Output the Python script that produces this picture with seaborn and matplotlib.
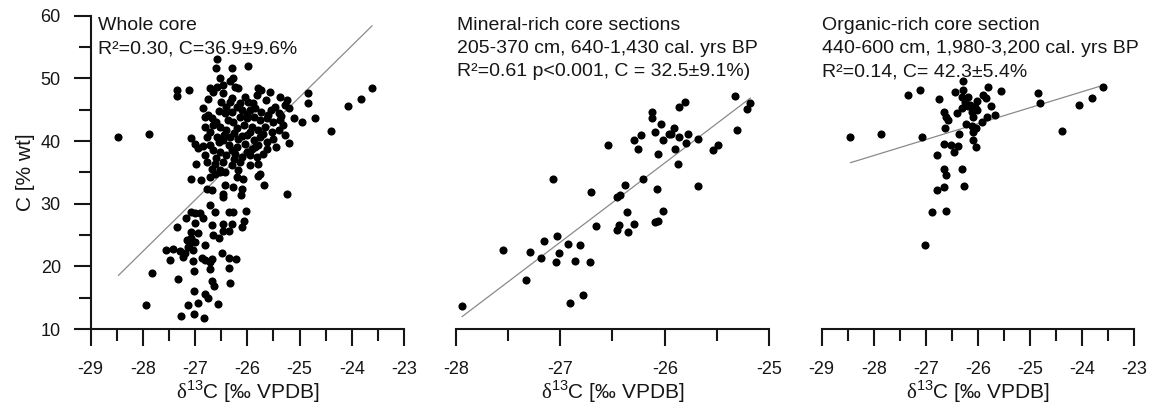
import numpy as np
import pandas as pd
import matplotlib
matplotlib.use("Agg")
import matplotlib.pyplot as plt
import seaborn as sns
from matplotlib.ticker import MultipleLocator

sns.set_theme(style="ticks")
plt.rcParams['font.family'] = ['Liberation Sans', 'DejaVu Sans']
plt.rcParams['mathtext.fontset'] = 'custom'
plt.rcParams['mathtext.rm'] = 'Liberation Serif'
plt.rcParams['mathtext.sf'] = 'Liberation Sans'

# ---------------- data ----------------
whole_d13c = [
    -28.47, -27.88, -27.35, -27.35, -27.11, -24.07, -23.83, -23.61, -24.40, -24.70,
    -24.84, -24.84, -24.96, -25.10, -25.21,
    -26.59, -26.60, -26.30, -25.98, -26.52, -26.27, -26.23, -26.33, -26.71, -26.59,
    -26.46, -26.65, -26.46, -26.17, -26.75, -26.30, -25.79, -25.73, -25.56, -25.82,
    -26.14, -26.20, -25.98, -25.37, -25.24, -25.27, -25.21, -25.47, -25.95, -25.73,
    -26.33, -26.81, -26.75, -26.68, -26.65, -26.43, -26.30, -26.27, -26.14, -26.01,
    -25.88, -25.76, -25.63, -25.50, -25.37, -25.31, -26.52, -26.40, -26.20, -26.07,
    -25.91, -25.79, -25.66, -25.53, -25.40, -25.27, -26.71, -26.81, -26.78, -26.59,
    -26.46, -26.33, -26.17, -26.01, -25.88, -25.76, -25.63, -25.50, -26.36, -26.20,
    -26.04, -25.91, -25.79, -25.63, -27.07, -27.00, -26.94, -26.71, -26.65, -26.52,
    -26.40, -26.24, -26.11, -25.95, -25.82, -26.81, -26.78, -26.62, -26.46, -26.30,
    -26.14, -25.95, -25.79, -26.98, -26.68, -26.52, -26.17, -25.75, -26.43,
    -27.07, -26.88, -26.72, -26.62, -26.52, -26.78, -26.68, -26.46, -26.46, -26.43,
    -26.27, -26.20, -26.09, -26.11, -26.13, -25.79, -25.69, -25.25, -26.72, -27.07,
    -27.00, -26.91, -26.84, -27.18, -26.62, -26.36, -26.28, -26.02, -26.07, -26.11,
    -27.34, -27.00, -26.68, -26.46, -26.30, -27.07, -26.94, -26.66, -26.55, -26.46,
    -26.36, -27.16, -27.07, -27.10, -27.00, -27.13, -27.05, -26.81, -27.42, -27.29,
    -27.20, -27.23, -27.48, -27.05, -26.86, -26.81, -26.72, -26.68, -26.49, -26.36,
    -26.22, -27.02, -26.72, -26.36, -27.33, -26.67, -26.63, -26.33, -27.03, -26.81,
    -26.76, -26.57, -27.13, -26.94, -27.28, -27.02, -26.83, -27.95, -27.82, -27.56,
    -26.05, -25.90, -25.65, -25.55, -25.85, -26.10, -26.40, -26.55, -26.00, -25.60,
    -25.40, -26.25, -25.95, -25.70, -26.45, -26.10, -25.85, -26.30, -26.00, -25.70,
    -26.55, -26.85, -26.60, -26.25, -25.45, -25.35, -26.50, -26.85, -26.38, -26.60,
]
whole_c = [
    40.7, 41.1, 48.1, 47.2, 48.1, 45.6, 46.7, 48.5, 41.6, 43.6,
    47.7, 46.0, 43.1, 43.6, 39.7,
    53.1, 51.7, 51.6, 52.0, 50.1, 50.1, 48.7, 49.5, 48.4, 48.7,
    48.9, 47.8, 47.6, 48.5, 46.7, 46.8, 48.4, 48.1, 47.9, 47.3,
    46.0, 45.5, 46.3, 47.1, 46.5, 45.7, 45.2, 45.5, 44.9, 44.7,
    46.3, 43.9, 44.1, 43.6, 42.6, 44.4, 44.7, 43.1, 43.9, 43.6,
    43.9, 43.4, 43.6, 43.1, 43.4, 42.6, 42.3, 41.8, 42.0, 42.6,
    42.3, 41.8, 42.3, 41.5, 41.8, 41.0, 41.5, 42.3, 40.7, 40.7,
    40.2, 40.7, 40.4, 41.0, 40.2, 40.7, 39.9, 40.4, 39.4, 39.1,
    39.6, 38.8, 39.4, 38.8, 40.5, 39.6, 38.9, 39.4, 38.6, 38.3,
    37.8, 38.0, 37.5, 37.8, 37.5, 37.8, 36.7, 36.4, 36.7, 36.2,
    36.7, 36.2, 36.4, 36.4, 35.6, 35.4, 35.4, 34.8, 35.1,
    34.0, 33.7, 34.3, 34.8, 35.1, 32.4, 32.2, 31.6, 31.1, 33.0,
    32.7, 34.3, 34.0, 32.4, 31.4, 34.4, 33.0, 31.5, 29.8, 28.7,
    28.5, 28.5, 27.7, 27.7, 28.7, 28.7, 28.7, 28.9, 27.3, 26.3,
    26.3, 26.9, 26.6, 26.7, 26.8, 25.5, 25.4, 25.0, 24.5, 25.7,
    25.6, 24.2, 24.5, 23.7, 23.9, 23.1, 22.6, 23.4, 22.7, 22.5,
    22.1, 21.5, 21.0, 20.9, 21.3, 21.0, 20.7, 21.1, 22.1, 21.3,
    21.1, 19.3, 19.5, 19.8, 17.9, 17.7, 16.8, 17.3, 16.0, 15.6,
    15.0, 14.0, 13.9, 14.1, 12.0, 12.4, 11.8, 13.8, 19.0, 22.6,
    47.0, 46.0, 46.5, 45.0, 45.2, 45.0, 45.5, 44.8, 44.3, 44.2,
    44.5, 41.3, 41.5, 41.2, 41.0, 40.8, 39.0, 38.6, 38.3, 38.0,
    39.8, 39.2, 37.3, 37.2, 39.0, 44.0, 46.3, 45.2, 43.3, 43.0,
]

mineral_d13c = [
    -27.94, -27.55, -27.33, -27.29, -27.16, -27.18, -27.07, -27.03, -27.01, -27.04,
    -26.93, -26.86, -26.81, -26.91, -26.78, -26.72, -26.71, -26.66, -26.54, -26.46,
    -26.43, -26.38, -26.36, -26.44, -26.46, -26.35, -26.29, -26.29, -26.23, -26.26,
    -26.21, -26.12, -26.12, -26.04, -26.09, -26.06, -26.07, -26.02, -26.09, -26.06,
    -26.02, -25.96, -25.94, -25.91, -25.86, -25.90, -25.87, -25.86, -25.81, -25.78,
    -25.80, -25.68, -25.68, -25.54, -25.49, -25.33, -25.31, -25.21, -25.18,
]
mineral_c = [
    13.7, 22.6, 17.8, 22.3, 24.1, 21.3, 34.0, 24.8, 22.1, 20.7,
    23.5, 20.9, 23.4, 14.1, 15.5, 20.7, 31.8, 26.4, 39.3, 31.1,
    31.4, 33.0, 28.6, 26.6, 25.8, 25.5, 26.8, 40.2, 40.9, 38.7,
    34.0, 44.6, 43.7, 42.7, 41.4, 38.0, 32.4, 28.8, 27.0, 27.2,
    40.2, 41.1, 41.2, 42.1, 40.7, 38.7, 36.3, 45.5, 46.3, 41.1,
    39.7, 40.4, 32.9, 38.6, 39.3, 47.2, 41.7, 45.1, 46.1,
]

organic_d13c = [
    -28.45, -27.87, -27.34, -27.11, -27.07, -26.74, -26.78, -26.65, -26.61, -26.57,
    -26.63, -26.66, -26.52, -26.47, -26.39, -26.36, -26.41, -26.45, -26.29, -26.29,
    -26.31, -26.24, -26.31, -26.19, -26.15, -26.12, -26.09, -26.23, -26.12, -26.04,
    -26.09, -26.10, -26.04, -26.02, -26.06, -25.93, -25.90, -25.85, -25.81, -25.76,
    -25.83, -25.67, -25.55, -26.65, -26.61, -26.65, -26.79, -26.31, -26.27, -26.89,
    -26.61, -27.02, -24.84, -24.81, -24.38, -24.07, -23.81, -23.61, -26.20, -26.02,
]
organic_c = [
    40.7, 41.2, 47.4, 48.2, 40.6, 46.7, 37.7, 44.6, 43.9, 43.4,
    42.1, 39.6, 39.4, 38.3, 39.2, 41.2, 44.4, 47.9, 49.6, 48.1,
    47.1, 46.3, 45.2, 47.1, 45.7, 44.7, 43.9, 42.7, 42.4, 42.0,
    41.4, 40.1, 39.1, 46.4, 45.5, 43.1, 47.3, 46.8, 48.6, 45.6,
    43.8, 44.1, 48.0, 35.6, 34.5, 32.7, 32.2, 35.5, 32.8, 28.6,
    28.8, 23.4, 47.7, 46.0, 41.6, 45.8, 46.8, 48.6, 45.6, 44.9,
]

fit_slope = [8.20, 12.65, 2.547]
fit_intercept = [252.0, 365.4, 109.0]

panel_text = [
    ["Whole core", "R\u00b2=0.30, C=36.9\u00b19.6%"],
    ["Mineral-rich core sections", "205-370 cm, 640-1,430 cal. yrs BP",
     "R\u00b2=0.61 p<0.001, C = 32.5\u00b19.1%)"],
    ["Organic-rich core section", "440-600 cm, 1,980-3,200 cal. yrs BP",
     "R\u00b2=0.14, C= 42.3\u00b15.4%"],
]
x_limits = [(-29, -23), (-28, -25), (-29, -23)]
y_ticks = [10, 20, 30, 40, 50, 60]
x_label = r"$\mathrm{\delta}^{\mathsf{13}}$C [‰ VPDB]"
y_label = "C [% wt]"

# ---------------- figure ----------------
W, H = 1153, 407
fig = plt.figure(figsize=(W / 100, H / 100), dpi=100)
ink = "#161616"

def px_rect(x0, x1, ytop, ybot):
    return [x0 / W, 1 - ybot / H, (x1 - x0) / W, (ybot - ytop) / H]

rects = [px_rect(90.7, 404.0, 15.7, 329.0),
         px_rect(455.7, 769.3, 15.7, 329.0),
         px_rect(821.7, 1134.3, 15.7, 329.0)]
text_x = [98, 457, 822]

datasets = [(whole_d13c, whole_c), (mineral_d13c, mineral_c), (organic_d13c, organic_c)]

for i, (rect, (xd, yd)) in enumerate(zip(rects, datasets)):
    ax = fig.add_axes(rect)
    ax.set_facecolor("none")
    df = pd.DataFrame({"d13c": xd, "c": yd})
    xs = np.array([df["d13c"].min(), df["d13c"].max()])
    sns.lineplot(x=xs, y=fit_slope[i] * xs + fit_intercept[i], ax=ax,
                 color="#8a8a8a", linewidth=0.9, zorder=2)
    sns.scatterplot(data=df, x="d13c", y="c", ax=ax, color="black", s=34,
                    linewidth=0, zorder=3, clip_on=False)
    ax.set_xlim(*x_limits[i])
    ax.set_ylim(10, 60)
    ax.xaxis.set_minor_locator(MultipleLocator(0.5))
    ax.set_xticks(np.arange(x_limits[i][0], x_limits[i][1] + 0.5, 1))
    ax.set_xticklabels([f"{v:d}" for v in range(x_limits[i][0], x_limits[i][1] + 1)])
    for s in ["top", "right"]:
        ax.spines[s].set_visible(False)
    for s in ["left", "bottom"]:
        ax.spines[s].set_linewidth(1.5)
        ax.spines[s].set_color(ink)
    ax.tick_params(axis="x", which="major", length=12.5, width=1.5, direction="out",
                   labelsize=13, pad=10.5, color=ink, labelcolor=ink)
    ax.tick_params(axis="y", which="major", length=12.5, width=1.5, direction="out",
                   labelsize=13, pad=9, color=ink, labelcolor=ink)
    ax.tick_params(axis="both", which="minor", length=8.5, width=1.5, direction="out",
                   color=ink)
    ax.set_xlabel(x_label, fontsize=15, color=ink, labelpad=0.5)
    if i == 0:
        ax.set_yticks(y_ticks)
        ax.set_yticklabels([str(v) for v in y_ticks])
        ax.yaxis.set_minor_locator(MultipleLocator(5))
        ax.set_ylabel(y_label, fontsize=15, color=ink, labelpad=4)
    else:
        ax.spines["left"].set_visible(False)
        ax.set_yticks([])
        ax.set_ylabel("")
    for j, line in enumerate(panel_text[i]):
        fig.text(text_x[i] / W, 1 - (30.5 + 22.8 * j) / H, line, fontsize=14,
                 color=ink, ha="left", va="baseline")

fig.savefig("out.png", dpi=100)
